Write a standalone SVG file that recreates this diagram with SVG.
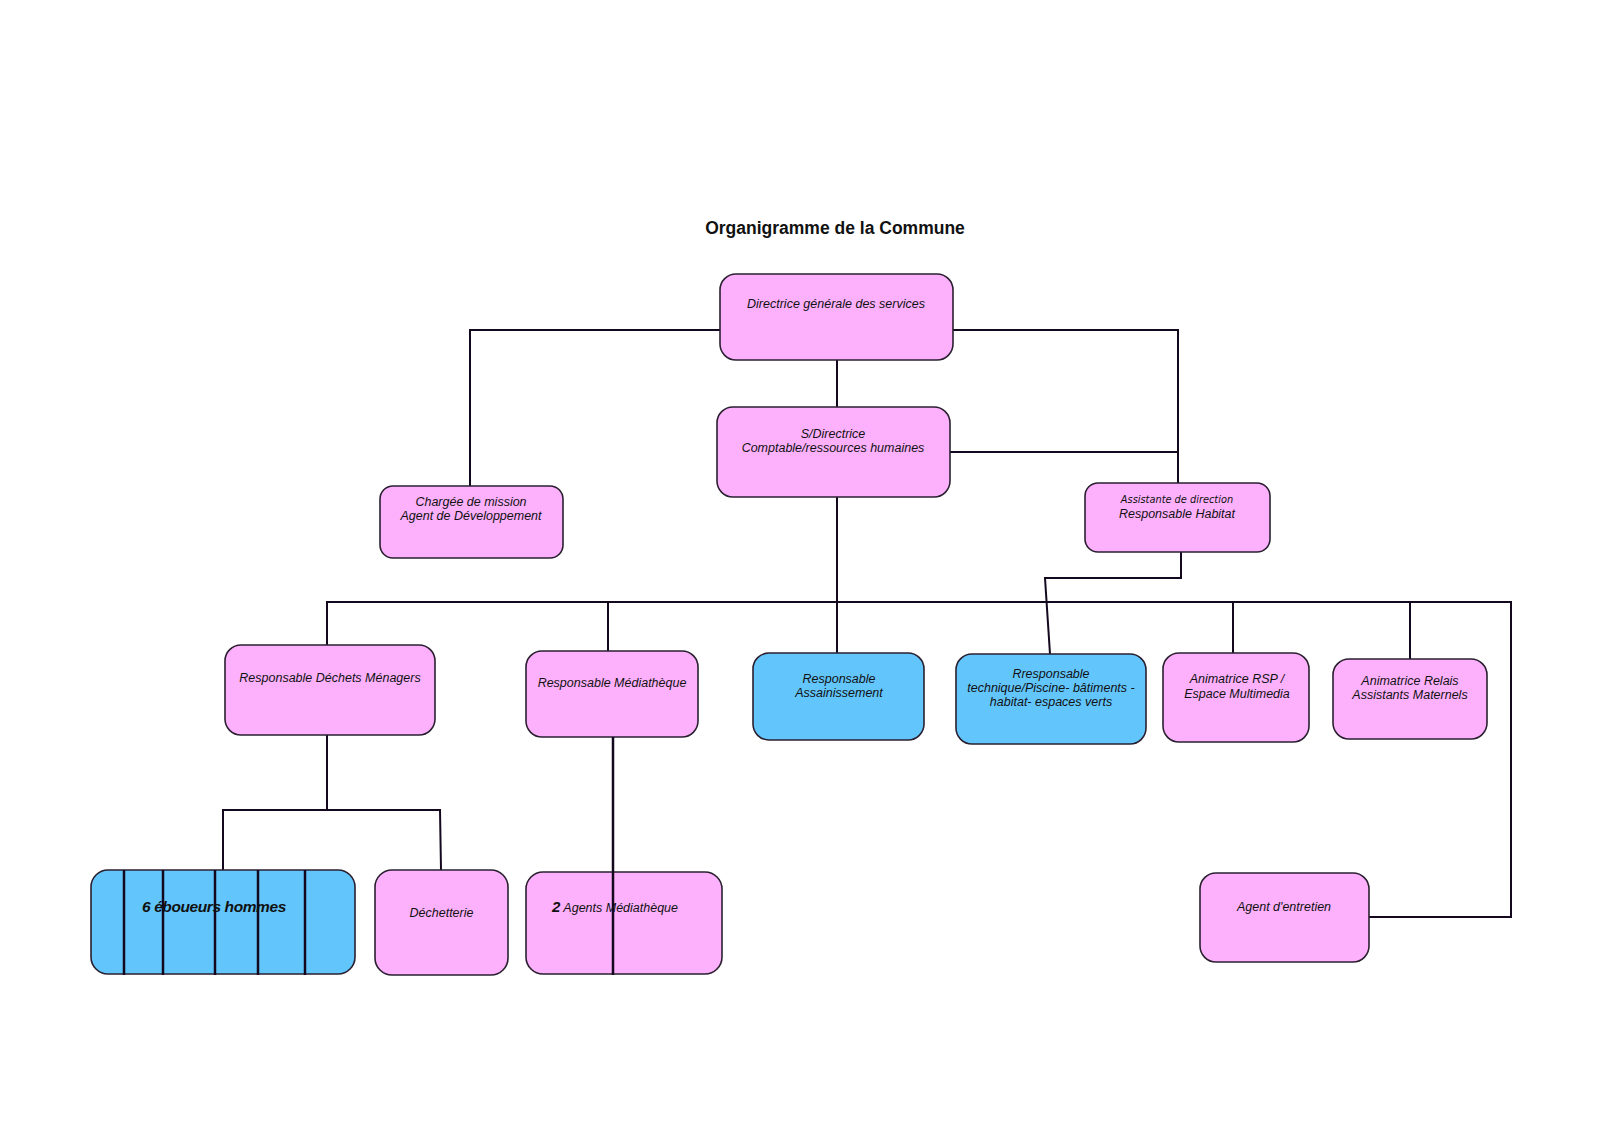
<svg xmlns="http://www.w3.org/2000/svg" width="1600" height="1143" viewBox="0 0 1600 1143">
<style>
.pink{fill:#FDB1FD;stroke:#2a2030;stroke-width:1.6}
.blue{fill:#62C6FD;stroke:#2a2030;stroke-width:1.6}
.t{font-family:"Liberation Sans",Arial,sans-serif;font-style:italic;font-size:12.5px;fill:#111;text-anchor:middle}
.title{font-family:"Liberation Sans",Arial,sans-serif;font-weight:bold;font-size:17.5px;fill:#111;text-anchor:middle}
.ln{fill:none;stroke:#14081e;stroke-width:2}
</style>
<rect width="1600" height="1143" fill="#ffffff"/>
<text class="title" x="835" y="234">Organigramme de la Commune</text>
<g id="connectors" class="ln">
<polyline points="720,330 470,330 470,486"/>
<line x1="837" y1="360" x2="837" y2="407"/>
<polyline points="953,330 1178,330 1178,483"/>
<line x1="950" y1="452" x2="1178" y2="452"/>
<polyline points="1181,552 1181,578 1045,578 1050,654"/>
<line x1="837" y1="497" x2="837" y2="653"/>
<polyline points="327,645 327,602 1511,602 1511,917 1369,917"/>
<line x1="608" y1="602" x2="608" y2="651"/>
<line x1="1233" y1="602" x2="1233" y2="653"/>
<line x1="1410" y1="602" x2="1410" y2="659"/>
<line x1="327" y1="735" x2="327" y2="810"/>
<polyline points="223,870 223,810 440,810 441,870"/>
</g>
<g id="n-directrice"><rect class="pink" x="720" y="274" width="233" height="86" rx="16"/><text class="t" x="836" y="308">Directrice générale des services</text></g>
<g id="n-sdirectrice"><rect class="pink" x="717" y="407" width="233" height="90" rx="16"/><text class="t" x="833" y="438">S/Directrice</text><text class="t" x="833" y="452">Comptable/ressources humaines</text></g>
<g id="n-chargee"><rect class="pink" x="380" y="486" width="183" height="72" rx="13"/><text class="t" x="471" y="506">Chargée de mission</text><text class="t" x="471" y="520">Agent de Développement</text></g>
<g id="n-assistante"><rect class="pink" x="1085" y="483" width="185" height="69" rx="13"/><text class="t" x="1177" y="503" style="font-family:'DejaVu Sans',Verdana,sans-serif;font-size:9.8px">Assistante de direction</text><text class="t" x="1177" y="518">Responsable Habitat</text></g>
<g id="n-dechets"><rect class="pink" x="225" y="645" width="210" height="90" rx="16"/><text class="t" x="330" y="682">Responsable Déchets Ménagers</text></g>
<g id="n-mediatheque"><rect class="pink" x="526" y="651" width="172" height="86" rx="16"/><text class="t" x="612" y="687">Responsable Médiathèque</text></g>
<g id="n-assainissement"><rect class="blue" x="753" y="653" width="171" height="87" rx="16"/><text class="t" x="839" y="683">Responsable</text><text class="t" x="839" y="697">Assainissement</text></g>
<g id="n-technique"><rect class="blue" x="956" y="654" width="190" height="90" rx="16"/><text class="t" x="1051" y="678">Rresponsable</text><text class="t" x="1051" y="692">technique/Piscine- bâtiments -</text><text class="t" x="1051" y="706">habitat- espaces verts</text></g>
<g id="n-rsp"><rect class="pink" x="1163" y="653" width="146" height="89" rx="16"/><text class="t" x="1237" y="683">Animatrice RSP /</text><text class="t" x="1237" y="698">Espace Multimedia</text></g>
<g id="n-relais"><rect class="pink" x="1333" y="659" width="154" height="80" rx="16"/><text class="t" x="1410" y="685">Animatrice Relais</text><text class="t" x="1410" y="699">Assistants Maternels</text></g>
<g id="n-eboueurs"><rect class="blue" x="91" y="870" width="264" height="104" rx="17"/>
<g class="ln" style="stroke-width:2.5"><line x1="124" y1="870" x2="124" y2="975"/><line x1="163" y1="870" x2="163" y2="975"/><line x1="215" y1="870" x2="215" y2="975"/><line x1="258" y1="870" x2="258" y2="975"/><line x1="305" y1="870" x2="305" y2="975"/></g>
<text x="142" y="912" style="font-family:'Liberation Sans',Arial,sans-serif;font-style:italic;font-weight:bold;font-size:15.5px;letter-spacing:-0.4px;fill:#111">6 éboueurs hommes</text></g>
<g id="n-dechetterie"><rect class="pink" x="375" y="870" width="133" height="105" rx="17"/><text class="t" x="441.5" y="917">Déchetterie</text></g>
<g id="n-agents"><rect class="pink" x="526" y="872" width="196" height="102" rx="17"/><text x="552" y="912" style="font-family:'Liberation Sans',Arial,sans-serif;font-style:italic;font-size:12.5px;fill:#111"><tspan style="font-weight:bold;font-size:15px">2</tspan> Agents Médiathèque</text>
<line class="ln" x1="613" y1="737" x2="613" y2="975" style="stroke-width:2.5"/></g>
<g id="n-entretien"><rect class="pink" x="1200" y="873" width="169" height="89" rx="16"/><text class="t" x="1284" y="911">Agent d'entretien</text></g>
</svg>
